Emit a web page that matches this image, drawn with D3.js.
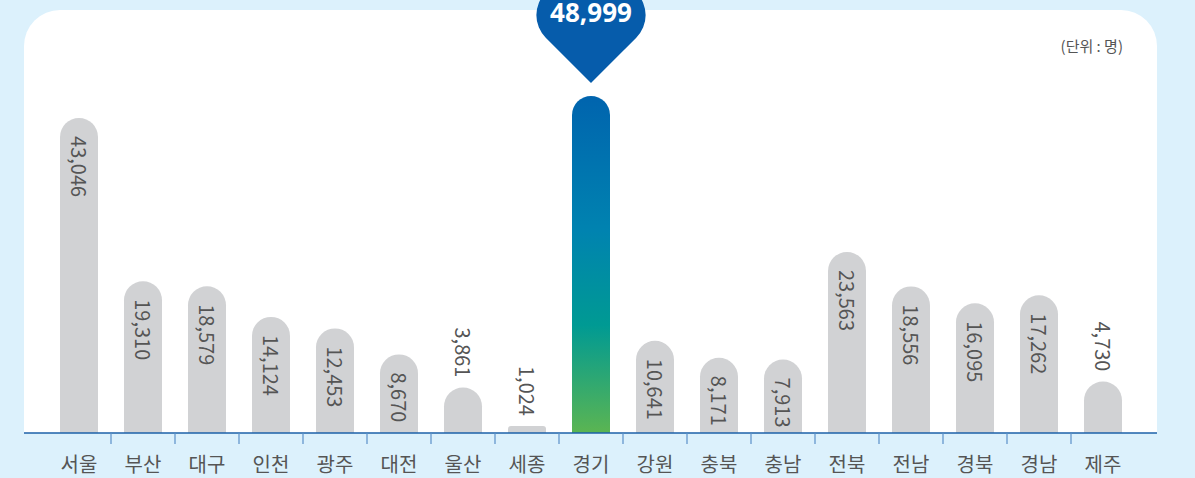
<!DOCTYPE html>
<meta charset="utf-8">
<head>
  <title>지역별 인원</title>
</head>
<body>
<style>
  html, body {
    margin: 0;
    padding: 0;
    background: #dcf1fc;
    font-family: "Noto Sans CJK KR", "Noto Sans", sans-serif;
  }
  svg { display: block; }
  .bar-label, .axis-label, .unit {
    fill: #555;
  }
</style>
<div class="chart"></div>
<script src="https://cdn.jsdelivr.net/npm/d3@7"></script>
<script>
(function() {

var regions = ["서울", "부산", "대구", "인천", "광주", "대전", "울산", "세종", "경기",
               "강원", "충북", "충남", "전북", "전남", "경북", "경남", "제주"];
var people = [43046, 19310, 18579, 14124, 12453, 8670, 3861, 1024, 48999,
              10641, 8171, 7913, 23563, 18556, 16095, 17262, 4730];
var highlight = "경기";
var unitLabel = "(단위 : 명)";

var data = regions.map(function(r, i) { return {region: r, value: people[i]}; });

var width = 1195,
    height = 478,
    baseline = 433,
    barWidth = 38,
    capR = 19;

var svg = d3.select(".chart").append("svg")
    .attr("width", width)
    .attr("height", height);

var defs = svg.append("defs");
var grad = defs.append("linearGradient")
    .attr("id", "hiGrad")
    .attr("x1", 0).attr("y1", 0).attr("x2", 0).attr("y2", 1);
[[0, "#0064ae"], [0.4, "#0083b0"], [0.68, "#009a93"], [1, "#5bb552"]].forEach(function(s) {
  grad.append("stop").attr("offset", s[0]).attr("stop-color", s[1]);
});

// white panel with rounded top corners
var px0 = 24, px1 = 1157, py0 = 10, pr = 36;
svg.append("path")
    .attr("d", "M" + px0 + "," + baseline +
               "V" + (py0 + pr) +
               "A" + pr + "," + pr + " 0 0 1 " + (px0 + pr) + "," + py0 +
               "H" + (px1 - pr) +
               "A" + pr + "," + pr + " 0 0 1 " + px1 + "," + (py0 + pr) +
               "V" + baseline + "Z")
    .attr("fill", "#fff");

var x = d3.scaleBand()
    .domain(regions)
    .range([47, 1135]);

// top value is held under the marker
var y = d3.scaleLinear()
    .domain([0, 46250])
    .range([baseline, 115])
    .clamp(true);

function barPath(d) {
  var cx = x(d.region) + x.bandwidth() / 2,
      x0 = cx - barWidth / 2,
      x1 = cx + barWidth / 2,
      h = baseline - y(d.value);
  if (h < 20) {
    var r = 3, top = y(d.value);
    return "M" + x0 + "," + baseline + "V" + (top + r) +
      "A" + r + "," + r + " 0 0 1 " + (x0 + r) + "," + top +
      "H" + (x1 - r) +
      "A" + r + "," + r + " 0 0 1 " + x1 + "," + (top + r) +
      "V" + baseline + "Z";
  }
  return "M" + x0 + "," + baseline + "V" + y(d.value) +
    "A" + capR + "," + capR + " 0 0 1 " + x1 + "," + y(d.value) +
    "V" + baseline + "Z";
}

function barTop(d) {
  var h = baseline - y(d.value);
  return h < 20 ? y(d.value) : y(d.value) - capR;
}

svg.append("g")
    .selectAll("path")
    .data(data)
  .enter().append("path")
    .attr("d", barPath)
    .attr("fill", function(d) { return d.region === highlight ? "url(#hiGrad)" : "#d1d2d4"; });

// rotated value labels
svg.append("g")
    .selectAll("text")
    .data(data.filter(function(d) { return d.region !== highlight; }))
  .enter().append("text")
    .attr("class", "bar-label")
    .attr("font-size", 20)
    .attr("dominant-baseline", "central")
    .attr("text-anchor", function(d) { return baseline - barTop(d) > 70 ? "start" : "end"; })
    .attr("transform", function(d) {
      var cx = x(d.region) + x.bandwidth() / 2,
          inside = baseline - barTop(d) > 70,
          ty = inside ? barTop(d) + 18 : barTop(d) - 10;
      return "translate(" + cx + "," + ty + ") rotate(90)";
    })
    .text(function(d) { return d3.format(",")(d.value); });

// axis area
svg.append("rect")
    .attr("x", 0).attr("y", baseline)
    .attr("width", width).attr("height", height - baseline)
    .attr("fill", "#dcf1fc");

svg.append("line")
    .attr("x1", px0).attr("x2", px1)
    .attr("y1", baseline).attr("y2", baseline)
    .attr("stroke", "#1d60a8")
    .attr("stroke-width", 1.5);

svg.append("g")
    .selectAll("line")
    .data(regions.slice(1))
  .enter().append("line")
    .attr("x1", function(d) { return x(d); })
    .attr("x2", function(d) { return x(d); })
    .attr("y1", baseline)
    .attr("y2", baseline + 11)
    .attr("stroke", "#5a90c8")
    .attr("stroke-width", 1.2);

svg.append("g")
    .selectAll("text")
    .data(regions)
  .enter().append("text")
    .attr("class", "axis-label")
    .attr("x", function(d) { return x(d) + x.bandwidth() / 2; })
    .attr("y", 472)
    .attr("text-anchor", "middle")
    .attr("font-size", 20)
    .text(function(d) { return d; });

svg.append("text")
    .attr("class", "unit")
    .attr("x", 1123)
    .attr("y", 52)
    .attr("text-anchor", "end")
    .attr("font-size", 15)
    .text(unitLabel);

// heart marker over the highlighted bar
var hi = data.filter(function(d) { return d.region === highlight; })[0],
    hx = x(hi.region) + x.bandwidth() / 2,
    hy = 83,
    s = 64,
    k = s / Math.SQRT2;
var heart = "M" + hx + "," + hy +
    "L" + (hx - k) + "," + (hy - k) +
    "A" + (s / 2) + "," + (s / 2) + " 0 0 1 " + hx + "," + (hy - 2 * k) +
    "A" + (s / 2) + "," + (s / 2) + " 0 0 1 " + (hx + k) + "," + (hy - k) + "Z";
svg.append("path")
    .attr("d", heart)
    .attr("fill", "#065cab");

svg.append("text")
    .attr("x", hx)
    .attr("y", 22)
    .attr("text-anchor", "middle")
    .attr("font-size", 26)
    .attr("font-weight", "bold")
    .attr("fill", "#fff")
    .attr("font-family", "'Noto Sans', sans-serif")
    .text(d3.format(",")(hi.value));

})();
</script>
</body>
